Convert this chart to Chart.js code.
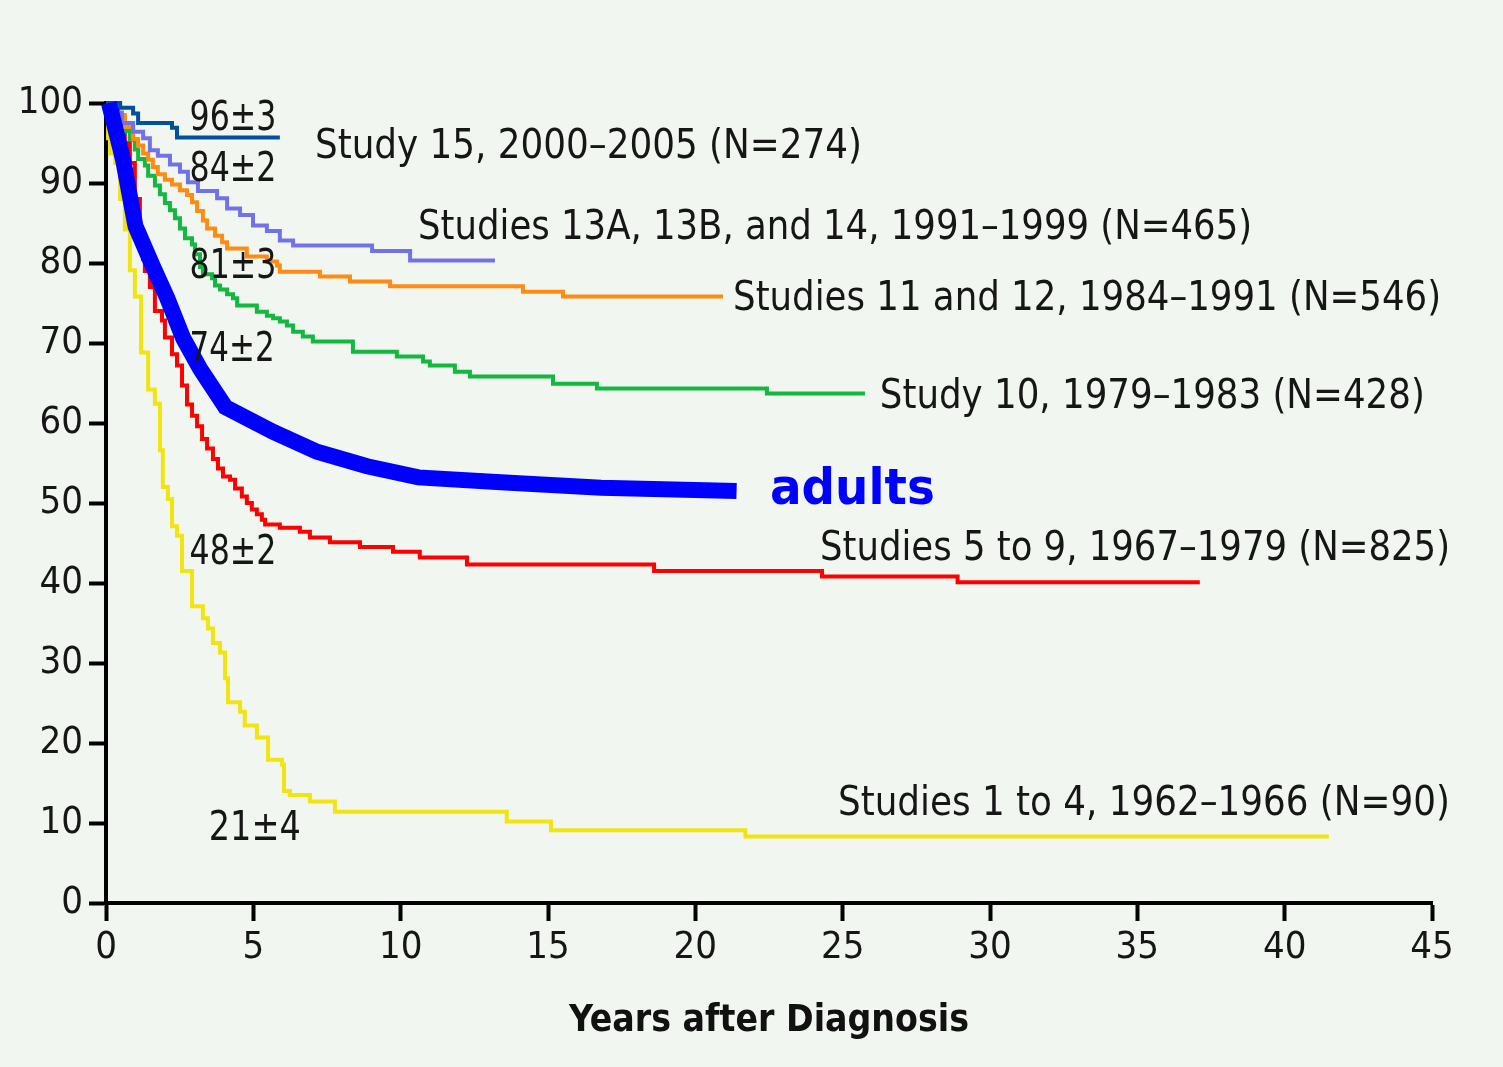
<!DOCTYPE html>
<html>
<head>
<meta charset="utf-8">
<title>Survival after diagnosis</title>
<script src="https://cdn.jsdelivr.net/npm/chart.js@4.4.1/dist/chart.umd.min.js"></script>
<style>
  html, body { margin: 0; padding: 0; background: #f2f6f0; }
  #wrap { width: 1503px; height: 1067px; }
</style>
</head>
<body>
<div id="wrap"><canvas id="km" width="1503" height="1067"></canvas></div>
<script>
// Kaplan-Meier curves: years after diagnosis where the curve steps, and survival (%) after the step.
const study15Years = [0, 0.48, 0.92, 1.09, 2.24, 2.41, 5.9];
const study15Surv  = [100, 99.4, 98.7, 97.5, 96.9, 95.7, 95.7];

const study13Years = [0, 0.2, 0.54, 0.92, 1.26, 1.49, 1.76, 2.17, 2.51, 2.78, 3.12, 3.77, 4.11, 4.55, 4.99, 5.46, 5.90, 6.35, 9.03, 10.32, 13.2];
const study13Surv  = [100, 98.8, 97.5, 96.4, 95.6, 94.1, 93.4, 92.3, 91.4, 90.1, 89.0, 88.1, 86.8, 86.0, 84.7, 84.0, 82.8, 82.2, 81.5, 80.3, 80.3];

const study11Years = [0, 0.34, 0.64, 0.92, 1.09, 1.26, 1.43, 1.59, 1.76, 2.00, 2.24, 2.51, 2.75, 2.92, 3.09, 3.29, 3.43, 3.70, 3.94, 4.11, 4.78, 5.46, 5.80, 5.90, 7.26, 8.28, 9.64, 14.15, 15.51, 20.94];
const study11Surv  = [100, 98.5, 97.0, 95.5, 94.7, 93.7, 92.9, 92.0, 91.1, 90.4, 89.8, 89.1, 88.5, 87.6, 86.5, 85.3, 84.3, 83.4, 82.6, 81.8, 80.8, 80.2, 79.7, 78.9, 78.3, 77.7, 77.1, 76.4, 75.8, 75.8];

const study10Years = [0, 0.31, 0.64, 0.81, 0.98, 1.09, 1.32, 1.43, 1.66, 1.83, 2.00, 2.17, 2.34, 2.51, 2.68, 2.92, 3.02, 3.19, 3.29, 3.60, 3.70, 3.87, 4.11, 4.31, 4.45, 5.12, 5.46, 5.67, 5.90, 6.14, 6.35, 6.68, 7.02, 8.38, 9.87, 10.76, 10.99, 11.84, 12.35, 15.17, 16.66, 22.43, 25.76];
const study10Surv  = [100, 98.0, 96.5, 95.4, 94.2, 93.0, 92.2, 90.9, 89.7, 88.6, 87.5, 86.6, 85.6, 84.3, 83.1, 82.3, 81.1, 79.5, 78.6, 78.1, 77.2, 76.7, 76.1, 75.6, 74.7, 73.9, 73.4, 73.1, 72.7, 72.2, 71.4, 70.8, 70.2, 68.9, 68.3, 67.7, 67.2, 66.4, 65.8, 64.9, 64.3, 63.7, 63.7];

const study5Years = [0, 0.14, 0.41, 0.64, 0.81, 0.98, 1.15, 1.26, 1.32, 1.49, 1.66, 1.90, 2.00, 2.24, 2.41, 2.58, 2.75, 2.92, 3.09, 3.26, 3.43, 3.63, 3.80, 3.97, 4.21, 4.38, 4.61, 4.78, 4.95, 5.12, 5.29, 5.40, 5.90, 6.58, 6.92, 7.60, 8.62, 9.74, 10.65, 12.25, 18.6, 24.3, 28.9, 37.12];
const study5Surv  = [100, 99, 97, 95, 92.5, 88, 84, 80.5, 79, 77, 74.0, 72.8, 70.7, 68.6, 67.2, 64.7, 62.3, 60.9, 59.6, 58.0, 56.8, 55.5, 54.3, 53.3, 52.9, 51.8, 50.8, 50.0, 49.2, 48.6, 47.9, 47.3, 46.9, 46.4, 45.7, 45.1, 44.5, 43.9, 43.2, 42.3, 41.5, 40.8, 40.1, 40.1];

const study1Years = [0, 0.07, 0.14, 0.31, 0.48, 0.64, 0.81, 0.98, 1.19, 1.43, 1.66, 1.83, 1.93, 2.10, 2.24, 2.41, 2.58, 2.92, 3.29, 3.46, 3.63, 3.87, 4.04, 4.14, 4.55, 4.71, 5.12, 5.50, 5.97, 6.04, 6.24, 6.92, 7.77, 13.6, 15.1, 21.7, 41.5];
const study1Surv  = [100, 95.6, 93.7, 92.5, 88.0, 84.2, 79.1, 75.8, 68.8, 64.2, 62.4, 56.6, 52.0, 50.5, 47.1, 45.9, 41.5, 37.1, 35.6, 34.3, 32.5, 31.3, 28.1, 25.1, 23.9, 22.2, 20.7, 17.9, 17.3, 14.0, 13.5, 12.7, 11.4, 10.2, 9.1, 8.3, 8.3];

// Adult survival, drawn as a smooth polyline
const adultYears = [0.1, 0.58, 1.0, 1.6, 2.08, 2.62, 3.19, 4.05, 5.67, 7.16, 8.86, 10.6, 13.4, 16.8, 21.4];
const adultSurv  = [100, 92.9, 84.6, 79.5, 75.6, 70.6, 66.8, 62.0, 58.9, 56.4, 54.6, 53.2, 52.6, 51.9, 51.5];

const curveNames = [
  'Study 15, 2000–2005 (N=274)',
  'Studies 13A, 13B, and 14, 1991–1999 (N=465)',
  'Studies 11 and 12, 1984–1991 (N=546)',
  'Study 10, 1979–1983 (N=428)',
  'Studies 5 to 9, 1967–1979 (N=825)',
  'Studies 1 to 4, 1962–1966 (N=90)'
];
const fiveYearRates = ['96±3', '84±2', '81±3', '74±2', '48±2', '21±4'];
const adultName = 'adults';

const xTickValues = [0, 5, 10, 15, 20, 25, 30, 35, 40, 45];
const yTickValues = [0, 10, 20, 30, 40, 50, 60, 70, 80, 90, 100];
const xTitle = 'Years after Diagnosis';

const NARROW = "'Liberation Sans Narrow', 'Arial Narrow', 'DejaVu Sans Condensed', sans-serif";

function points(years, surv) {
  return years.map((t, i) => ({ x: t, y: surv[i] }));
}

// Text placed in data coordinates; each string is squeezed to the given pixel width
const curveTextPlugin = {
  id: 'curveText',
  afterDatasetsDraw(chart, args, opts) {
    const { ctx, scales: { x, y } } = chart;
    ctx.save();
    for (const item of opts.items) {
      ctx.font = item.font;
      ctx.fillStyle = item.color;
      ctx.textBaseline = 'alphabetic';
      ctx.textAlign = 'left';
      const natural = ctx.measureText(item.text).width;
      const sx = item.width / natural;
      let px = x.getPixelForValue(item.x);
      if (item.center) px -= item.width / 2;
      const py = y.getPixelForValue(item.y);
      ctx.save();
      ctx.translate(px, py);
      ctx.scale(sx, 1);
      ctx.fillText(item.text, 0, 0);
      ctx.restore();
    }
    ctx.restore();
  }
};

const backgroundPlugin = {
  id: 'pageBackground',
  beforeDraw(chart) {
    const { ctx, width, height } = chart;
    ctx.save();
    ctx.fillStyle = '#f2f6f0';
    ctx.fillRect(0, 0, width, height);
    ctx.restore();
  }
};

const labelFont = '40px ' + NARROW;
const rateFont = '41px ' + NARROW;
const textColor = '#161616';

const textItems = [
  { text: curveNames[0], x: 7.09, y: 93.1, width: 547, font: labelFont, color: textColor },
  { text: curveNames[1], x: 10.59, y: 83.0, width: 834, font: labelFont, color: textColor },
  { text: curveNames[2], x: 21.28, y: 74.1, width: 708, font: labelFont, color: textColor },
  { text: curveNames[3], x: 26.26, y: 61.9, width: 545, font: labelFont, color: textColor },
  { text: curveNames[4], x: 24.23, y: 42.9, width: 630, font: labelFont, color: textColor },
  { text: curveNames[5], x: 24.84, y: 11.0, width: 612, font: labelFont, color: textColor },
  { text: fiveYearRates[0], x: 4.31, y: 96.6, width: 87, center: true, font: rateFont, color: textColor },
  { text: fiveYearRates[1], x: 4.31, y: 90.2, width: 87, center: true, font: rateFont, color: textColor },
  { text: fiveYearRates[2], x: 4.31, y: 78.1, width: 87, center: true, font: rateFont, color: textColor },
  { text: fiveYearRates[3], x: 4.28, y: 67.8, width: 85, center: true, font: rateFont, color: textColor },
  { text: fiveYearRates[4], x: 4.31, y: 42.4, width: 87, center: true, font: rateFont, color: textColor },
  { text: fiveYearRates[5], x: 5.05, y: 7.9, width: 92, center: true, font: rateFont, color: textColor },
  { text: adultName, x: 22.53, y: 49.9, width: 165, font: "bold 50px 'DejaVu Sans', Verdana, sans-serif", color: '#0000ff' }
];

const thin = { borderWidth: 4, stepped: true, order: 1, fill: false };

const chart = new Chart(document.getElementById('km'), {
  type: 'line',
  data: {
    datasets: [
      { label: adultName, data: points(adultYears, adultSurv), borderColor: '#0000ff', borderWidth: 16, stepped: false, order: 0, borderCapStyle: 'butt', borderJoinStyle: 'miter' },
      { label: curveNames[0], data: points(study15Years, study15Surv), borderColor: '#00509b', ...thin },
      { label: curveNames[1], data: points(study13Years, study13Surv), borderColor: '#7272e8', ...thin },
      { label: curveNames[2], data: points(study11Years, study11Surv), borderColor: '#ff8c12', ...thin },
      { label: curveNames[3], data: points(study10Years, study10Surv), borderColor: '#12b840', ...thin },
      { label: curveNames[4], data: points(study5Years, study5Surv), borderColor: '#ff0000', ...thin },
      { label: curveNames[5], data: points(study1Years, study1Surv), borderColor: '#f2e40e', ...thin }
    ]
  },
  options: {
    responsive: false,
    animation: false,
    devicePixelRatio: 1,
    clip: false,
    layout: { padding: { left: 0, right: 71, top: 103, bottom: 0 } },
    elements: { point: { radius: 0, hoverRadius: 0 }, line: { tension: 0 } },
    plugins: {
      legend: { display: false },
      tooltip: { enabled: false },
      curveText: { items: textItems }
    },
    scales: {
      x: {
        type: 'linear',
        min: 0,
        max: 45,
        afterBuildTicks: (s) => { s.ticks = xTickValues.map(v => ({ value: v })); },
        afterFit: (s) => { s.height = 164; },
        grid: { display: true, drawOnChartArea: false, drawTicks: true, tickLength: 18, tickWidth: 4, tickColor: '#000' },
        border: { display: true, color: '#000', width: 4 },
        ticks: { color: '#161616', font: { family: NARROW, size: 38 }, padding: 4, maxRotation: 0, autoSkip: false },
        title: { display: true, text: xTitle, color: '#111', font: { family: NARROW, size: 37, weight: 'bold' }, padding: { top: 0, bottom: 23 } }
      },
      y: {
        type: 'linear',
        min: 0,
        max: 100,
        afterBuildTicks: (s) => { s.ticks = yTickValues.map(v => ({ value: v })); },
        afterFit: (s) => { s.width = 106; },
        grid: { display: true, drawOnChartArea: false, drawTicks: true, tickLength: 17, tickWidth: 4, tickColor: '#000' },
        border: { display: true, color: '#000', width: 4 },
        ticks: { color: '#161616', font: { family: NARROW, size: 38 }, padding: 6, autoSkip: false }
      }
    }
  },
  plugins: [backgroundPlugin, curveTextPlugin]
});
</script>
</body>
</html>
